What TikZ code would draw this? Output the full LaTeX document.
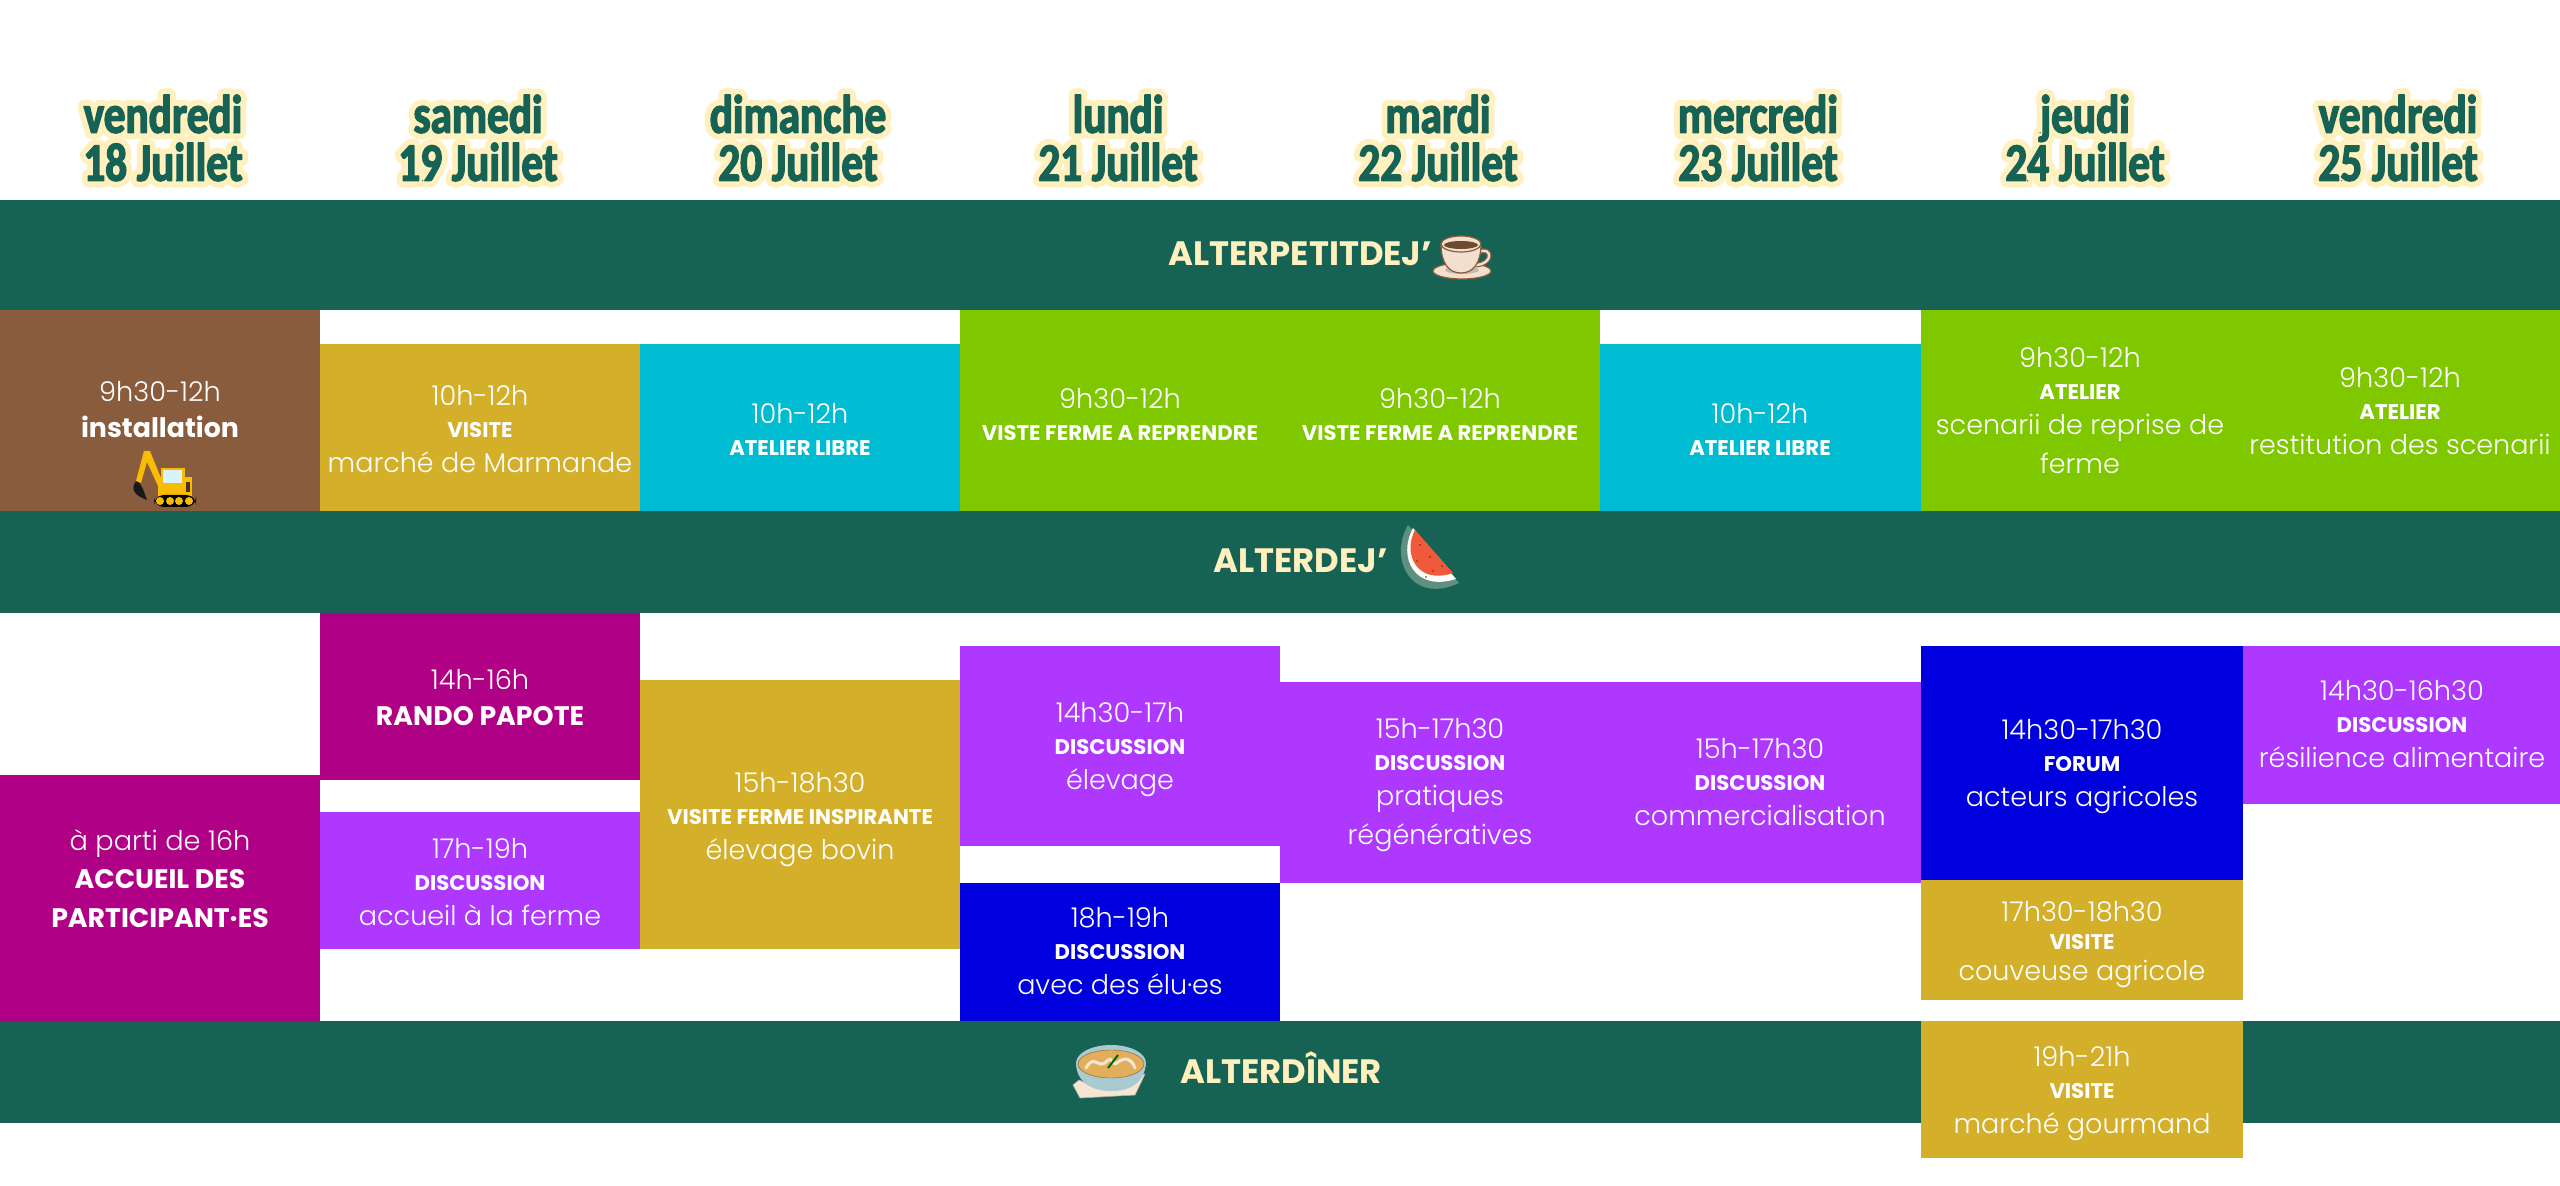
\documentclass[tikz,border=0pt]{standalone}
\usepackage{fontspec}
\setmainfont{Poppins}
\newfontfamily\plight{Poppins Light}
\newfontfamily\pbold{Poppins Bold}
\newfontfamily\hdfront{Carlito Bold}[FakeStretch=0.8]
\definecolor{band}{HTML}{166356}
\definecolor{brownb}{HTML}{885C3C}
\definecolor{goldb}{HTML}{D4AF2A}
\definecolor{cyanb}{HTML}{00BCD2}
\definecolor{greenb}{HTML}{7FC800}
\definecolor{magb}{HTML}{B00085}
\definecolor{purb}{HTML}{AF38FF}
\definecolor{blueb}{HTML}{0000DE}
\definecolor{creamb}{HTML}{FFF0BE}
\definecolor{soupb}{HTML}{E3AE5A}
\definecolor{bowlb}{HTML}{A9CBD0}
\definecolor{clothb}{HTML}{F5E6D3}
\definecolor{melonb}{HTML}{EF5A3A}
\definecolor{rindb}{HTML}{5F8F7E}
\definecolor{cupb}{HTML}{F2DFCE}
\definecolor{digb}{HTML}{F9BC05}
\newcommand{\pxfont}[2]{\fontsize{#1}{#2}\selectfont}
\newcommand{\lstrut}{\rule[-4pt]{0pt}{16.5pt}}
\newcommand{\tstrut}{\rule[-2.5pt]{0pt}{15pt}}
% px = 0.5pt
\newcommand{\tm}[1]{\tstrut{\plight\pxfont{13.6}{16}#1}}
\newcommand{\kd}[1]{\lstrut{\pbold\pxfont{10.6}{12}#1}}
\newcommand{\ds}[1]{\lstrut{\plight\pxfont{13.5}{17}#1}}
\newcommand{\bg}[1]{\lstrut{\pbold\pxfont{13.4}{16}#1}}
\newcommand{\blk}[6]{\path[fill=#2] (#3,#4) rectangle (#5,#6); \coordinate (#1) at ({(#3+#5)/2},{(#4+#6)/2});}
\tikzset{
  x=0.5pt,y=-0.5pt,
  txt/.style={text=white,align=center,inner sep=0pt,anchor=center,yshift=-1.25pt},
  mealtxt/.style={text=creamb,inner sep=0pt,anchor=base west,font=\pbold\pxfont{16.9}{18}},
  hdh/.style={text=creamb,align=center,inner sep=0pt,anchor=center,font=\hdfront\pxfont{27}{24}},
  hdf/.style={text=band,align=center,inner sep=0pt,anchor=center,font=\hdfront\pxfont{27}{24}},
}
\newcommand{\hd}[3]{%
  \node[hdh] (#1h) at (#2,138) {\special{pdf:code 2 Tr 6.5 w 1 j 1 J 1 0.941 0.745 RG}#3};
  \node[hdf] (#1) at (#2,138) {\special{pdf:code 2 Tr 0.7 w 1 j 1 J 0.086 0.388 0.337 RG}#3};}
\begin{document}
\begin{tikzpicture}
\useasboundingbox (0,0) rectangle (2560,1186);
\fill[white] (0,0) rectangle (2560,1186);
% meal bands
\blk{bandA}{band}{0}{200}{2560}{310}
\blk{bandB}{band}{0}{511}{2560}{613}
\blk{bandC}{band}{0}{1021}{2560}{1123}
% headers
\hd{d1}{163}{vendredi\\18 Juillet}
\hd{d2}{478}{samedi\\19 Juillet}
\hd{d3}{798}{dimanche\\20 Juillet}
\hd{d4}{1118}{lundi\\21 Juillet}
\hd{d5}{1438}{mardi\\22 Juillet}
\hd{d6}{1758}{mercredi\\23 Juillet}
\hd{d7}{2085}{jeudi\\24 Juillet}
\hd{d8}{2398}{vendredi\\25 Juillet}
% morning
\blk{m1}{brownb}{0}{310}{320}{511}
\blk{m2}{goldb}{320}{344}{640}{511}
\blk{m3}{cyanb}{640}{344}{960}{511}
\blk{m4}{greenb}{960}{310}{1600}{511}
\blk{m6}{cyanb}{1600}{344}{1921}{511}
\blk{m7}{greenb}{1921}{310}{2560}{511}
% afternoon
\blk{a1}{magb}{0}{775}{320}{1021}
\blk{a2}{magb}{320}{613}{640}{780}
\blk{a2b}{purb}{320}{812}{640}{949}
\blk{a3}{goldb}{640}{680}{960}{949}
\blk{a4}{purb}{960}{646}{1280}{846}
\blk{a4b}{blueb}{960}{883}{1280}{1021}
\blk{a5}{purb}{1280}{682}{1921}{883}
\blk{a7}{blueb}{1921}{646}{2243}{880}
\blk{a7b}{goldb}{1921}{880}{2243}{1000}
\blk{a7c}{goldb}{1921}{1021}{2243}{1158}
\blk{a8}{purb}{2243}{646}{2560}{804}
% texts
\node[txt] (t1) at (160,409) {\tm{9h30-12h}\\[2pt]\bg{installation}};
\node[txt] (t2) at (480,428) {\tm{10h-12h}\\\kd{VISITE}\\\ds{marché de Marmande}};
\node[txt] (t3) at (800,429) {\tm{10h-12h}\\\kd{ATELIER LIBRE}};
\node[txt] (t4) at (1120,414) {\tm{9h30-12h}\\\kd{VISTE FERME A REPRENDRE}};
\node[txt] (t5) at (1440,414) {\tm{9h30-12h}\\\kd{VISTE FERME A REPRENDRE}};
\node[txt] (t6) at (1760,429) {\tm{10h-12h}\\\kd{ATELIER LIBRE}};
\node[txt] (t7) at (2080,410) {\tm{9h30-12h}\\\kd{ATELIER}\\\ds{scenarii de reprise de}\\[2pt]\ds{ferme}};
\node[txt] (t8) at (2400,410) {\tm{9h30-12h}\\\kd{ATELIER}\\\ds{restitution des scenarii}};
\node[txt] (u1) at (160,878) {\tm{à parti de 16h}\\[2pt]\bg{ACCUEIL DES}\\[2pt]\bg{PARTICIPANT·ES}};
\node[txt] (u2) at (480,697) {\tm{14h-16h}\\[2pt]\bg{RANDO PAPOTE}};
\node[txt] (u3) at (480,881) {\tm{17h-19h}\\\kd{DISCUSSION}\\\ds{accueil à la ferme}};
\node[txt] (u4) at (800,815) {\tm{15h-18h30}\\\kd{VISITE FERME INSPIRANTE}\\\ds{élevage bovin}};
\node[txt] (u5) at (1120,745) {\tm{14h30-17h}\\\kd{DISCUSSION}\\\ds{élevage}};
\node[txt] (u6) at (1120,950) {\tm{18h-19h}\\\kd{DISCUSSION}\\\ds{avec des élu·es}};
\node[txt] (u7) at (1440,781) {\tm{15h-17h30}\\\kd{DISCUSSION}\\\ds{pratiques}\\[2pt]\ds{régénératives}};
\node[txt] (u8) at (1760,781) {\tm{15h-17h30}\\\kd{DISCUSSION}\\\ds{commercialisation}};
\node[txt] (u9) at (2082,762) {\tm{14h30-17h30}\\\kd{FORUM}\\\ds{acteurs agricoles}};
\node[txt] (u10) at (2082,940) {\tm{17h30-18h30}\\[-2.2pt]\kd{VISITE}\\[-2.2pt]\ds{couveuse agricole}};
\node[txt] (u11) at (2082,1089) {\tm{19h-21h}\\\kd{VISITE}\\\ds{marché gourmand}};
\node[txt] (u12) at (2402,723) {\tm{14h30-16h30}\\\kd{DISCUSSION}\\\ds{résilience alimentaire}};
% meal labels
\node[mealtxt] (ma) at (1168,266) {ALTERPETITDEJ’};
\node[mealtxt] (mb) at (1213,573) {ALTERDEJ’};
\node[mealtxt] (mc) at (1180,1083) {ALTERDÎNER};
% cup
\fill[fill=cupb,draw=brownb,line width=0.6pt] (1462,271) ellipse [x radius=29,y radius=8];
\fill[gray!40!cupb] (1462,270) ellipse [x radius=17,y radius=4];
\draw[brownb,line width=2.4pt] (1479,252) .. controls (1492,246) and (1494,264) .. (1476,265);
\draw[cupb,line width=1.2pt] (1479,252) .. controls (1492,246) and (1494,264) .. (1476,265);
\draw[fill=cupb,draw=brownb,line width=0.6pt] (1441,244) .. controls (1441,262) and (1448,273) .. (1461,273) .. controls (1474,273) and (1481,262) .. (1481,244) -- cycle;
\fill[fill=cupb,draw=brownb,line width=0.6pt] (1461,244) ellipse [x radius=20,y radius=8];
\fill[brownb!80!black] (1461,245) ellipse [x radius=17,y radius=4];
% watermelon
\fill[rindb] (1408,525) .. controls (1388,560) and (1412,605) .. (1459,583) -- cycle;
\fill[white!90!creamb] (1413,528) .. controls (1397,558) and (1415,592) .. (1456,579) -- cycle;
\fill[melonb] (1415,530) .. controls (1402,555) and (1418,585) .. (1453,573) -- cycle;
\foreach \sx/\sy in {1420/545,1430/557,1417/561,1433/571,1442/566,1426/577} \fill[black!60!brown] (\sx,\sy) circle (0.9);
% soup
\fill[clothb,draw=brownb!50,line width=0.3pt] (1073,1085) -- (1079,1080) -- (1090,1085) -- (1145,1074) -- (1135,1095) -- (1080,1098) -- cycle;
\fill[bowlb] (1076,1065) .. controls (1078,1085) and (1095,1091) .. (1111,1091) .. controls (1128,1091) and (1144,1085) .. (1146,1063) -- cycle;
\fill[bowlb] (1111,1063) ellipse [x radius=35,y radius=18];
\fill[soupb,draw=brownb,line width=0.2pt] (1111,1064) ellipse [x radius=33,y radius=14];
\draw[clothb,line width=1.5pt,line cap=round] (1086,1068) .. controls (1095,1052) and (1098,1072) .. (1108,1060) .. controls (1112,1056) and (1112,1068) .. (1118,1062) .. controls (1126,1056) and (1132,1060) .. (1135,1068);
\draw[green!40!black,line width=1pt] (1108,1068) -- (1118,1055);
% excavator
\fill[black!90] (137,480) .. controls (130,488) and (133,495) .. (147,500) .. controls (144,492) and (143,486) .. (137,480) -- cycle;
\fill[digb] (136,481) -- (144,451) -- (150,451) -- (163,483) -- (158,486) -- (147,462) -- (141,483) -- cycle;
\fill[digb] (161,468) rectangle (185,490);
\fill[digb] (158,477) rectangle (192,496);
\fill[cyan!15!white] (163,470) rectangle (182,483);
\fill[black!60!brown] (186,482) rectangle (190,492);
\fill[black,rounded corners=5pt] (154,495) rectangle (196,507);
\foreach \wx in {160,170,179,189} \fill[digb] (\wx,501) circle (4);
\end{tikzpicture}
\end{document}
